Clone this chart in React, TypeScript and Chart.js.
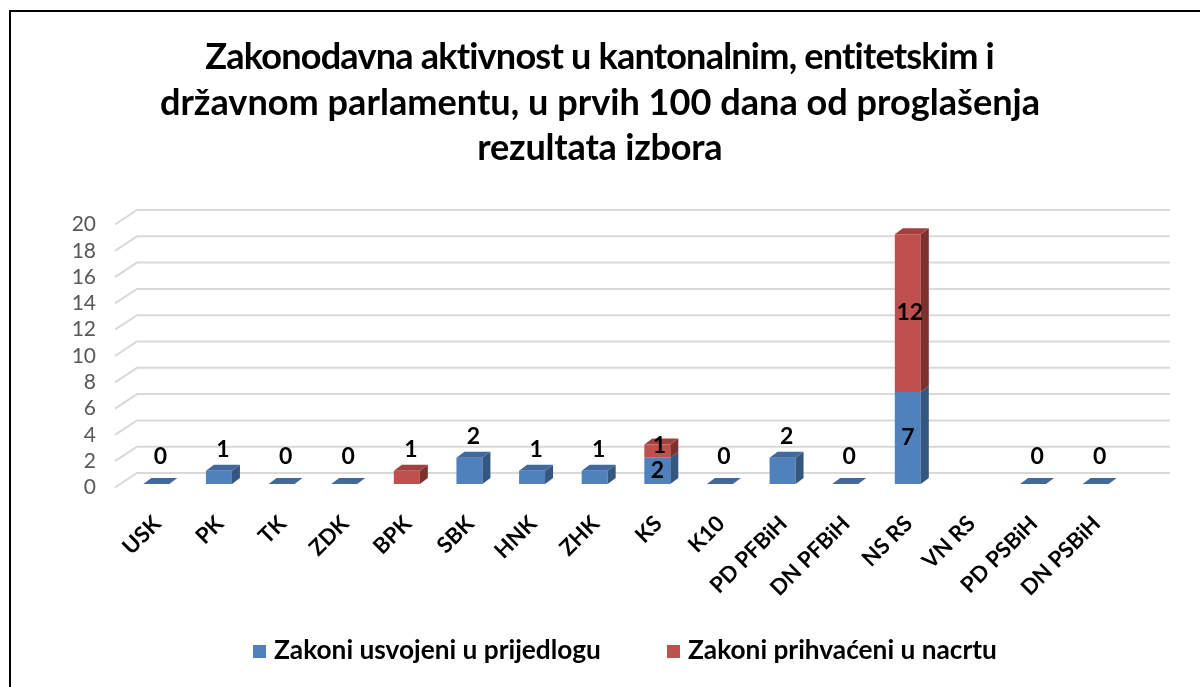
import React, { useEffect, useRef } from "react";
import { Chart, registerables } from "chart.js";

Chart.register(...registerables);

const categories = ["USK", "PK", "TK", "ZDK", "BPK", "SBK", "HNK", "ZHK", "KS", "K10", "PD PFBiH", "DN PFBiH", "NS RS", "VN RS", "PD PSBiH", "DN PSBiH"];
const adoptedProposal: (number | null)[] = [0, 1, 0, 0, null, 2, 1, 1, 2, 0, 2, 0, 7, null, 0, 0];
const acceptedDraft: (number | null)[] = [null, null, null, null, 1, null, null, null, 1, null, null, null, 12, null, null, null];
const yTicks = [0, 2, 4, 6, 8, 10, 12, 14, 16, 18, 20];
const seriesNames = ["Zakoni usvojeni u prijedlogu", "Zakoni prihvaćeni u nacrtu"];
const titleLines = [
  "Zakonodavna aktivnost u kantonalnim, entitetskim i",
  "državnom parlamentu, u prvih 100 dana od proglašenja",
  "rezultata izbora",
];

const FONT = "Lato, 'Open Sans', sans-serif";
const FRONT = ["#4F81BD", "#C0504D"];
const TOP = ["#41699D", "#A3403D"];
const SIDE = ["#34577F", "#7E302E"];
const DX = 8;
const DY = -6;

function fitSize(ctx: CanvasRenderingContext2D, text: string, weight: string, target: number) {
  ctx.font = `${weight} 100px ${FONT}`;
  const w = ctx.measureText(text).width;
  return (100 * target) / w;
}

const plugin3d = {
  id: "plugin3d",
  beforeDatasetsDraw(chart: any) {
    const ctx: CanvasRenderingContext2D = chart.ctx;
    const ys = chart.scales.y;
    ctx.save();
    ctx.strokeStyle = "#D9D9D9";
    ctx.lineWidth = 2;
    yTicks.forEach((v) => {
      const y = ys.getPixelForValue(v);
      ctx.beginPath();
      ctx.moveTo(115, y + 3.5);
      ctx.lineTo(137, y - 11);
      ctx.lineTo(1170, y - 11);
      ctx.stroke();
    });
    ctx.fillStyle = "#595959";
    ctx.font = `21px ${FONT}`;
    ctx.textAlign = "right";
    ctx.textBaseline = "middle";
    yTicks.forEach((v) => {
      const y = ys.getPixelForValue(v);
      ctx.fillText(String(v), 96, y + 3.5);
    });
    ctx.restore();
  },
  afterDatasetsDraw(chart: any) {
    const ctx: CanvasRenderingContext2D = chart.ctx;
    ctx.save();
    chart.data.datasets.forEach((ds: any, di: number) => {
      const meta = chart.getDatasetMeta(di);
      meta.data.forEach((el: any, i: number) => {
        const v = ds.data[i];
        if (v === null || v === undefined) return;
        const { x, y, base, width } = el.getProps(["x", "y", "base", "width"], true);
        const l = x - width / 2;
        const r = x + width / 2;
        if (v === 0) {
          ctx.fillStyle = TOP[di];
          ctx.beginPath();
          ctx.moveTo(l, base);
          ctx.lineTo(l + DX, base + DY);
          ctx.lineTo(r + DX, base + DY);
          ctx.lineTo(r, base);
          ctx.closePath();
          ctx.fill();
          return;
        }
        ctx.fillStyle = SIDE[di];
        ctx.beginPath();
        ctx.moveTo(r, y);
        ctx.lineTo(r + DX, y + DY);
        ctx.lineTo(r + DX, base + DY);
        ctx.lineTo(r, base);
        ctx.closePath();
        ctx.fill();
        const above = chart.data.datasets.slice(di + 1).some((d: any) => d.data[i] && d.data[i] > 0);
        if (!above) {
          ctx.fillStyle = TOP[di];
          ctx.beginPath();
          ctx.moveTo(l, y);
          ctx.lineTo(l + DX, y + DY);
          ctx.lineTo(r + DX, y + DY);
          ctx.lineTo(r, y);
          ctx.closePath();
          ctx.fill();
        }
      });
    });
    ctx.restore();
  },
  afterDraw(chart: any) {
    const ctx: CanvasRenderingContext2D = chart.ctx;
    const xs = chart.scales.x;
    const ys = chart.scales.y;
    ctx.save();

    // data labels
    ctx.fillStyle = "#000000";
    ctx.font = `bold 23px ${FONT}`;
    ctx.textAlign = "center";
    ctx.textBaseline = "middle";
    categories.forEach((_, i) => {
      const a = adoptedProposal[i];
      const b = acceptedDraft[i];
      const cx = xs.getPixelForValue(i);
      const stacked = a !== null && b !== null && a > 0 && b > 0;
      if (stacked) {
        const y0 = ys.getPixelForValue(0);
        const y1 = ys.getPixelForValue(a as number);
        const y2 = ys.getPixelForValue((a as number) + (b as number));
        ctx.fillText(String(a), cx, (y0 + y1) / 2);
        const small = y1 - y2 < 20 ? 6 : 0;
        ctx.fillText(String(b), cx + 2, (y1 + y2) / 2 - small);
      } else {
        const v = a !== null ? a : b;
        if (v === null) return;
        const top = ys.getPixelForValue(v);
        ctx.fillText(String(v), cx + 4, top - 21 - (v === 0 ? 6 : 0));
      }
    });

    // x labels
    ctx.font = `bold 22px ${FONT}`;
    ctx.textAlign = "right";
    ctx.textBaseline = "middle";
    categories.forEach((c, i) => {
      const cx = xs.getPixelForValue(i);
      ctx.save();
      ctx.translate(cx + 1, 520);
      ctx.rotate(-Math.PI / 4);
      ctx.fillText(c, 0, 0);
      ctx.restore();
    });

    // title
    const ts = fitSize(ctx, titleLines[1], "bold", 880);
    ctx.font = `bold ${ts}px ${FONT}`;
    ctx.textAlign = "center";
    ctx.textBaseline = "middle";
    const tys = [57, 103, 148];
    const tws = [790, 880, 245];
    titleLines.forEach((t, k) => {
      (ctx as any).letterSpacing = "0px";
      const w = ctx.measureText(t).width;
      const ls = (tws[k] - w) / t.length;
      (ctx as any).letterSpacing = `${ls.toFixed(2)}px`;
      ctx.fillText(t, 600 + ls / 2, tys[k]);
    });
    (ctx as any).letterSpacing = "0px";

    // legend
    const lsz = fitSize(ctx, seriesNames[0], "bold", 327);
    ctx.font = `bold ${lsz}px ${FONT}`;
    ctx.textAlign = "left";
    ctx.textBaseline = "middle";
    const lx = [253, 667];
    seriesNames.forEach((n, k) => {
      ctx.fillStyle = FRONT[k];
      ctx.fillRect(lx[k], 645, 13, 13);
      ctx.fillStyle = "#000000";
      ctx.fillText(n, lx[k] + 21, 651);
    });

    // frame
    ctx.strokeStyle = "#000000";
    ctx.lineWidth = 2;
    ctx.strokeRect(10, 11, 1300, 800);
    ctx.restore();
  },
};

export default function App() {
  const ref = useRef<HTMLCanvasElement | null>(null);
  useEffect(() => {
    if (!ref.current) return;
    const chart = new Chart(ref.current, {
      type: "bar",
      data: {
        labels: categories,
        datasets: [
          { label: seriesNames[0], data: adoptedProposal, backgroundColor: FRONT[0], borderWidth: 0 },
          { label: seriesNames[1], data: acceptedDraft, backgroundColor: FRONT[1], borderWidth: 0 },
        ],
      },
      options: {
        responsive: false,
        animation: false,
        layout: { padding: { left: 125, right: 73, top: 221, bottom: 203 } },
        plugins: { legend: { display: false }, title: { display: false }, tooltip: { enabled: false } },
        datasets: { bar: { categoryPercentage: 1, barPercentage: 0.415 } },
        scales: {
          x: { stacked: true, display: false },
          y: { stacked: true, display: false, min: 0, max: 20 },
        },
      },
      plugins: [plugin3d],
    });
    return () => chart.destroy();
  }, []);
  return (
    <div style={{ position: "fixed", left: 0, top: 0, width: 1200, height: 687, background: "#fff" }}>
      <canvas ref={ref} width={1200} height={687} style={{ display: "block" }} />
    </div>
  );
}
